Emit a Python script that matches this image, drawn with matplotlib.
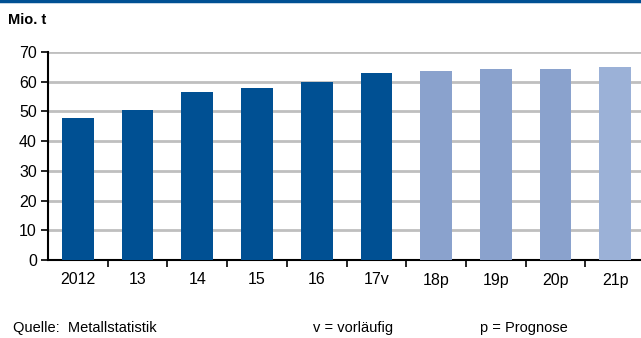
import matplotlib.pyplot as plt
import numpy as np

plt.rcParams["font.family"] = ["Liberation Sans", "DejaVu Sans"]

# Daten (Mio. t)
labels = ["2012", "13", "14", "15", "16", "17v", "18p", "19p", "20p", "21p"]
values = [47.7, 50.4, 56.4, 57.8, 59.9, 63.0, 63.7, 64.4, 64.4, 65.1]
colors = ["#005093"] * 6 + ["#8AA2CD"] * 3 + ["#9BB1D7"]

fig = plt.figure(figsize=(6.41, 3.38), dpi=100)
ax = fig.add_axes([48 / 641, 1 - 260 / 338, 1 - 48 / 641, 208 / 338])

x = np.arange(len(labels))
ax.bar(x, values, width=0.53, color=colors, zorder=3)

ax.set_ylim(0, 70)
ax.set_yticks(range(0, 71, 10))
ax.set_xlim(-0.5, 9.43)
ax.set_xticks(x)
ax.set_xticklabels(labels)
ax.set_xticks(x[:-1] + 0.5, minor=True)
ax.tick_params(axis="x", which="major", length=0, pad=9, labelsize=11.5)
ax.tick_params(axis="x", which="minor", length=5, width=1.2, direction="out")
ax.tick_params(axis="y", length=5, width=1.2, labelsize=11.5, pad=3)

ax.yaxis.grid(True, color="#BFBFBF", linewidth=2, zorder=0)
ax.set_axisbelow(True)
for s in ["top", "right"]:
    ax.spines[s].set_visible(False)
ax.spines["left"].set_linewidth(1.5)
ax.spines["bottom"].set_linewidth(1.5)

# Linie oben
fig.add_artist(plt.Line2D([0, 1], [0.997, 0.997], color="#005093", linewidth=2.5))

fig.text(8 / 641, 1 - 20 / 338, "Mio. t", fontsize=10.5, fontweight="bold", va="center")
fig.text(13 / 641, 1 - 328 / 338, "Quelle:  Metallstatistik", fontsize=10.5, va="center")
fig.text(313 / 641, 1 - 328 / 338, "v = vorläufig", fontsize=10.5, va="center")
fig.text(480 / 641, 1 - 328 / 338, "p = Prognose", fontsize=10.5, va="center")

fig.savefig("out.png", dpi=100)
